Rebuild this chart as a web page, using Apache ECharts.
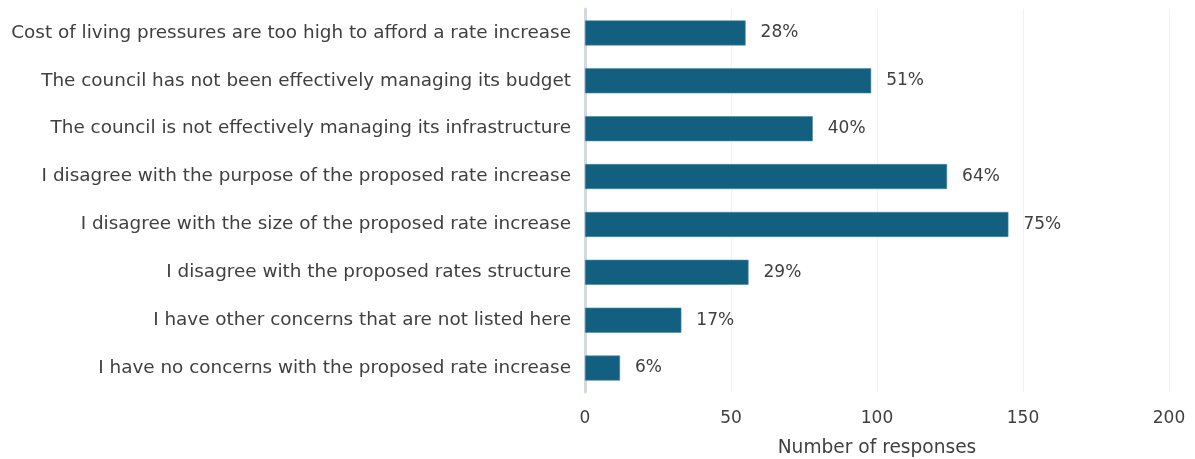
<!DOCTYPE html>
<html>
<head>
<meta charset="utf-8">
<script src="https://cdn.jsdelivr.net/npm/echarts@6/dist/echarts.min.js"></script>
<style>
  html, body { margin: 0; padding: 0; background: #ffffff; }
  #chart { width: 1195px; height: 459px; }
</style>
</head>
<body>
<div id="chart"></div>
<script>
// Reasons for disagreeing with the proposed rate increase
const categories = [
  'Cost of living pressures are too high to afford a rate increase',
  'The council has not been effectively managing its budget',
  'The council is not effectively managing its infrastructure',
  'I disagree with the purpose of the proposed rate increase',
  'I disagree with the size of the proposed rate increase',
  'I disagree with the proposed rates structure',
  'I have other concerns that are not listed here',
  'I have no concerns with the proposed rate increase'
];
const responses = [55, 98, 78, 124, 145, 56, 33, 12];
const percentLabels = ['28%', '51%', '40%', '64%', '75%', '29%', '17%', '6%'];
const xTicks = [0, 50, 100, 150, 200];

const FONT = '"DejaVu Sans", sans-serif';
const TEXT = '#404040';

const chart = echarts.init(document.getElementById('chart'), null, { renderer: 'canvas' });
chart.setOption({
  animation: false,
  grid: { left: 585, right: 26, top: 9, bottom: 67, containLabel: false, outerBoundsMode: 'none' },
  xAxis: {
    type: 'value',
    min: xTicks[0],
    max: xTicks[xTicks.length - 1],
    interval: xTicks[1] - xTicks[0],
    name: 'Number of responses',
    nameLocation: 'middle',
    nameGap: 47,
    nameTextStyle: { color: TEXT, fontFamily: FONT, fontSize: 18.6 },
    axisLine: { show: false },
    axisTick: { show: false },
    axisLabel: { color: TEXT, fontFamily: FONT, fontSize: 17, margin: 18 },
    splitLine: { show: true, lineStyle: { color: '#f2f2f2', width: 1 } }
  },
  yAxis: {
    type: 'category',
    data: categories,
    inverse: true,
    axisLine: { show: true, lineStyle: { color: '#d3d8e3', width: 3 } },
    axisTick: { show: false },
    axisLabel: { color: TEXT, fontFamily: FONT, fontSize: 18.4, margin: 14 },
    splitLine: { show: false }
  },
  series: [{
    type: 'bar',
    data: responses,
    barWidth: 25,
    itemStyle: { color: '#135f7f', borderColor: '#4b87a1', borderWidth: 0.6 },
    label: {
      show: true,
      position: 'right',
      distance: 15,
      color: TEXT,
      fontFamily: FONT,
      fontSize: 17,
      formatter: p => percentLabels[p.dataIndex]
    }
  }]
});
</script>
</body>
</html>
